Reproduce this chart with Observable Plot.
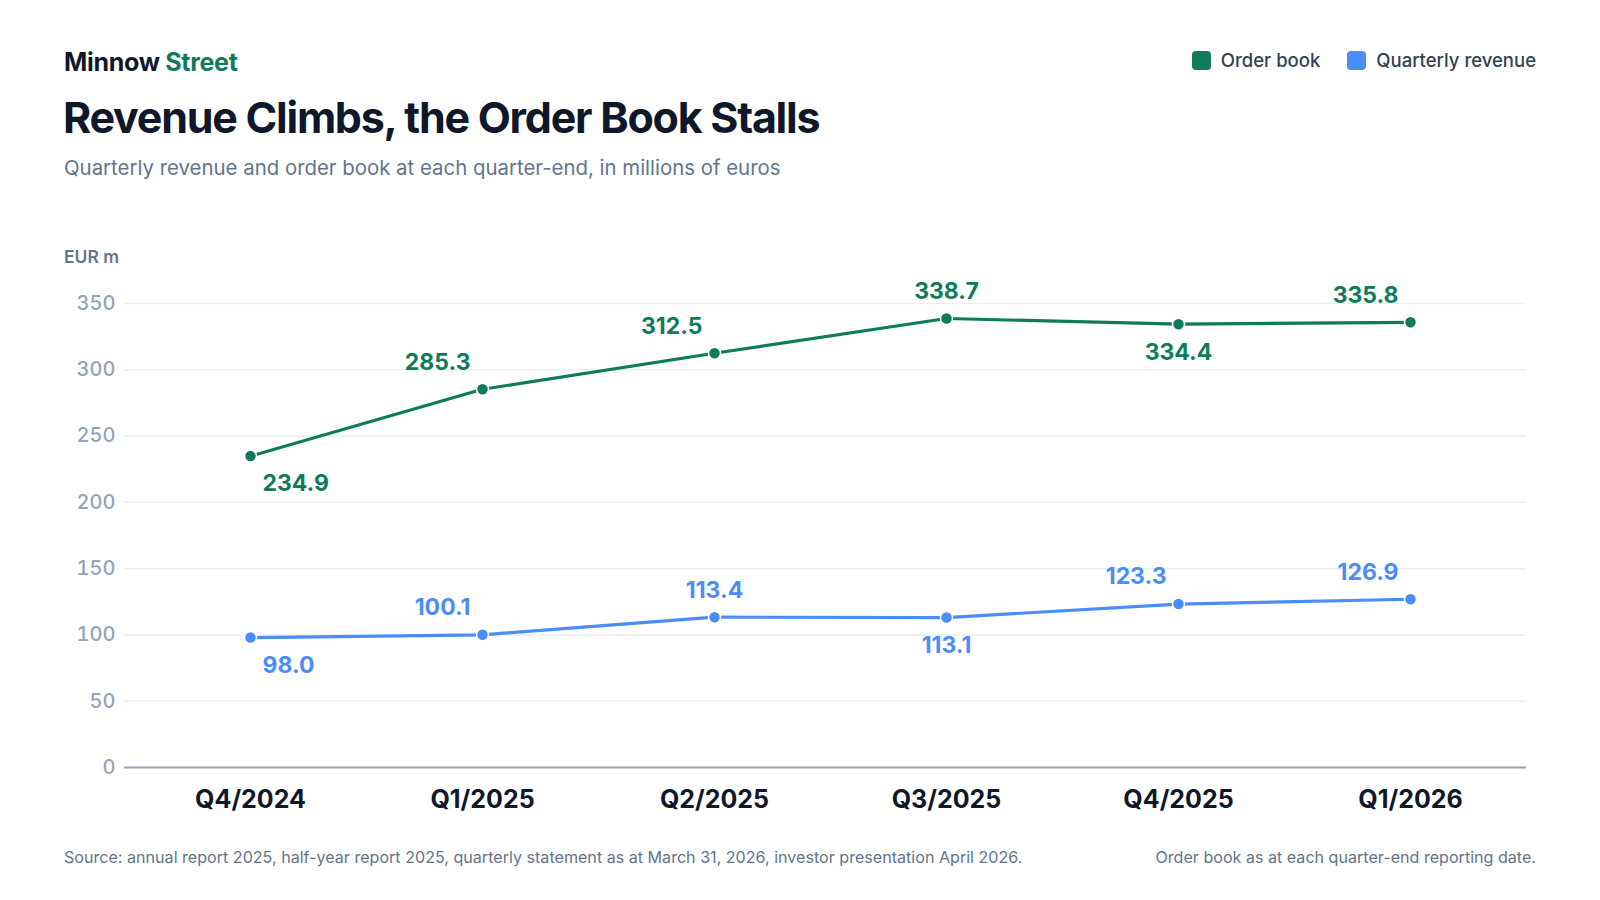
<!DOCTYPE html>
<html>
<head>
<meta charset="utf-8">
<script src="https://cdn.jsdelivr.net/npm/d3@7"></script>
<script src="https://cdn.jsdelivr.net/npm/@observablehq/plot@0.6"></script>
<style>
  html, body { margin: 0; padding: 0; background: #fff; }
  body { width: 1600px; height: 900px; position: relative; font-family: Inter, "Noto Sans", sans-serif; overflow: hidden; }
  .abs { position: absolute; line-height: 1; white-space: nowrap; }
  #brand { left: 64px; top: 50px; font-size: 25px; font-weight: 700; color: #0f172a; letter-spacing: -0.3px; }
  #brand span { color: #0f7b5c; }
  #title { left: 63px; top: 96px; font-size: 43px; font-weight: 700; color: #0f172a; letter-spacing: -1.25px; }
  #subtitle { left: 64px; top: 158px; font-size: 20.4px; font-weight: 400; color: #64748b; }
  #unit { left: 64px; top: 248px; font-size: 17.5px; font-weight: 600; color: #64748b; }
  #legend { right: 64px; top: 51px; display: flex; gap: 27px; font-size: 18.5px; font-weight: 500; color: #334155; }
  #legend .item { display: flex; align-items: center; gap: 10px; }
  #legend .sw { width: 19px; height: 19px; border-radius: 4px; display: inline-block; }
  #chart { position: absolute; left: 0; top: 270px; }
  #source { left: 64px; top: 849px; font-size: 16.1px; color: #64748b; }
  #note { right: 64px; top: 849px; font-size: 16.1px; color: #64748b; }
</style>
</head>
<body>
<div id="brand" class="abs">Minnow <span>Street</span></div>
<div id="legend" class="abs"></div>
<div id="title" class="abs">Revenue Climbs, the Order Book Stalls</div>
<div id="subtitle" class="abs">Quarterly revenue and order book at each quarter-end, in millions of euros</div>
<div id="unit" class="abs">EUR m</div>
<div id="chart"></div>
<div id="source" class="abs">Source: annual report 2025, half-year report 2025, quarterly statement as at March 31, 2026, investor presentation April 2026.</div>
<div id="note" class="abs">Order book as at each quarter-end reporting date.</div>
<script>
const quarters = ["Q4/2024", "Q1/2025", "Q2/2025", "Q3/2025", "Q4/2025", "Q1/2026"];
const orderBook = [234.9, 285.3, 312.5, 338.7, 334.4, 335.8];
const revenue = [98.0, 100.1, 113.4, 113.1, 123.3, 126.9];
const seriesNames = ["Order book", "Quarterly revenue"];
const seriesColors = ["#0f7b5c", "#4b8df8"];
const yTicks = [0, 50, 100, 150, 200, 250, 300, 350];

// legend
const legend = document.getElementById("legend");
seriesNames.forEach((n, i) => {
  const it = document.createElement("div");
  it.className = "item";
  it.innerHTML = `<span class="sw" style="background:${seriesColors[i]}"></span><span>${n}</span>`;
  legend.appendChild(it);
});

// build table
function placement(vals, i) {
  if (i === 0) return "belowStart";
  const prev = vals[i - 1], next = vals[i + 1];
  if (next !== undefined && vals[i] > prev && vals[i] > next) return "aboveMiddle";
  if (next !== undefined && vals[i] < prev && vals[i] < next) return "belowMiddle";
  return "aboveEnd";
}
const rows = [];
[orderBook, revenue].forEach((vals, s) => {
  vals.forEach((v, i) => rows.push({ series: seriesNames[s], quarter: quarters[i], value: v, place: placement(vals, i) }));
});
const fmt = d3.format(".1f");
const labelFont = { fontSize: 23, fontWeight: 700, fontFamily: "Inter, sans-serif" };

const chart = Plot.plot({
  width: 1600,
  height: 560,
  marginLeft: 124,
  marginRight: 74,
  marginTop: 33,
  marginBottom: 63,
  style: { fontFamily: "Inter, sans-serif", background: "transparent", overflow: "visible" },
  x: { type: "point", domain: quarters, padding: 0.5, insetLeft: 10, label: null },
  y: { domain: [0, 350], label: null },
  color: { domain: seriesNames, range: seriesColors },
  marks: [
    Plot.ruleY(yTicks.filter(t => t > 0), { stroke: "#e9eef4", strokeWidth: 1.5 }),
    Plot.ruleY([0], { stroke: "#94a3b8", strokeWidth: 2 }),
    Plot.axisY({ ticks: yTicks, tickSize: 0, tickPadding: 9, fontSize: 20, fontWeight: 500, fill: "#94a3b8", tickFormat: d => d, label: null }),
    Plot.axisX({ tickSize: 0, tickPadding: 23, fontSize: 25, fontWeight: 700, fill: "#0f172a", label: null }),
    Plot.line(rows, { x: "quarter", y: "value", z: "series", stroke: "series", strokeWidth: 3.2 }),
    Plot.dot(rows, { x: "quarter", y: "value", fill: "series", r: 6, stroke: "white", strokeWidth: 1.5 }),
    Plot.text(rows.filter(d => d.place === "belowStart"), { x: "quarter", y: "value", text: d => fmt(d.value), fill: "series", textAnchor: "start", dx: 12, dy: 28, ...labelFont }),
    Plot.text(rows.filter(d => d.place === "aboveEnd"), { x: "quarter", y: "value", text: d => fmt(d.value), fill: "series", textAnchor: "end", dx: -12, dy: -27, ...labelFont }),
    Plot.text(rows.filter(d => d.place === "aboveMiddle"), { x: "quarter", y: "value", text: d => fmt(d.value), fill: "series", textAnchor: "middle", dy: -27, ...labelFont }),
    Plot.text(rows.filter(d => d.place === "belowMiddle"), { x: "quarter", y: "value", text: d => fmt(d.value), fill: "series", textAnchor: "middle", dy: 28, ...labelFont })
  ]
});
document.getElementById("chart").appendChild(chart);
</script>
</body>
</html>
